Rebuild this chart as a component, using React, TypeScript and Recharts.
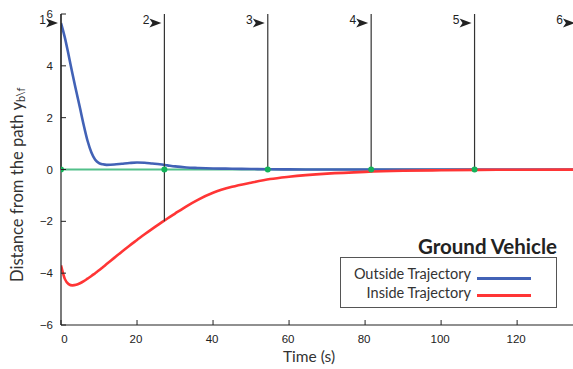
import React from 'react';
import { ComposedChart, Line, Scatter, XAxis, YAxis, ReferenceLine } from 'recharts';

// time samples (s) and lateral offsets
const times = [0, 1, 2, 3, 4, 5, 6, 7, 8, 9, 10, 11, 12, 14, 16, 18, 20, 22, 24, 26, 28, 30, 33, 36, 40, 45, 50, 55, 60, 70, 80, 90, 100, 110, 120, 135];
const outsideTrajectory = [5.65, 5.1, 4.42, 3.7, 3.03, 2.37, 1.7, 1.1, 0.66, 0.38, 0.25, 0.2, 0.18, 0.19, 0.22, 0.25, 0.27, 0.26, 0.23, 0.2, 0.16, 0.12, 0.08, 0.06, 0.04, 0.03, 0.02, 0.01, 0.005, 0, 0, 0, 0, 0, 0, 0];
const insideTrajectory = [-3.7, -4.22, -4.42, -4.47, -4.45, -4.39, -4.31, -4.21, -4.11, -4.0, -3.89, -3.77, -3.65, -3.41, -3.17, -2.94, -2.72, -2.5, -2.29, -2.09, -1.89, -1.7, -1.42, -1.17, -0.9, -0.67, -0.51, -0.37, -0.28, -0.16, -0.09, -0.05, -0.03, -0.015, -0.01, -0.005];

// waypoints 1..6 along the path
const markerTimes = [0, 27.2, 54.4, 81.6, 108.8, 136];
const markerLabels = ['1', '2', '3', '4', '5', '6'];
const markerBottoms = [0, -2, 0, 0, 0, 0];

const xTicks = [0, 20, 40, 60, 80, 100, 120];
const yTicks = [-6, -4, -2, 0, 2, 4, 6];

const seriesKeys = ['outside', 'inside'];
const seriesNames = ['Outside Trajectory', 'Inside Trajectory'];
const seriesColors = ['#4262b6', '#ff3535'];

const chartData = times.map((t, i) => ({ t, outside: outsideTrajectory[i], inside: insideTrajectory[i] }));
const waypointData = markerTimes.filter((t) => t <= 135).map((t) => ({ t, v: 0 }));

const FONT = '"Liberation Sans", Arial, sans-serif';
const LABEL_FONT = 'Lato, "Liberation Sans", sans-serif';
const INK = '#222';

const fmt = (v: number) => (v < 0 ? `\u2212${Math.abs(v)}` : `${v}`);

const YTick = ({ x, y, payload }: any) => (
  <g>
    <line x1={x + 8} x2={x + 13} y1={y} y2={y} stroke={INK} strokeWidth={1} />
    <text x={x} y={y + 4} textAnchor="end" fontSize={11.5} fill={INK} fontFamily={FONT}>
      {fmt(payload.value)}
    </text>
  </g>
);

const XTick = ({ x, y, payload }: any) => (
  <g>
    <line x1={x} x2={x} y1={y - 8} y2={y - 13} stroke={INK} strokeWidth={1} />
    <text x={payload.value === 0 ? x + 3.5 : x - 1} y={y + 9.5} textAnchor="middle" fontSize={11.5} fill={INK} fontFamily={FONT}>
      {fmt(payload.value)}
    </text>
  </g>
);

const YLabel = () => (
  <text transform="rotate(-90)" x={-282} y={23} fontSize={16.6} fill="#333" fontFamily={LABEL_FONT}>
    Distance from the path y
    <tspan dy={2} fontSize={11}>b\f</tspan>
  </text>
);

const XLabel = () => (
  <text x={309} y={362} textAnchor="middle" fontSize={15.5} fill="#333" fontFamily={LABEL_FONT}>
    Time (s)
  </text>
);

const MarkerLabel = ({ viewBox, text }: any) => {
  const x = viewBox.x;
  const cy = 23;
  return (
    <g>
      <text x={x - 15} y={24} textAnchor="end" fontSize={12} fill={INK} fontFamily={FONT}>
        {text}
      </text>
      <path
        d={`M${x - 15},${cy - 4.5} L${x - 3},${cy} L${x - 15},${cy + 4.5} L${x - 12},${cy} Z`}
        fill={INK}
      />
    </g>
  );
};

const WaypointDot = ({ cx, cy }: any) => <circle cx={cx} cy={cy} r={3} fill="#14b35a" />;

export default function App() {
  return (
    <div style={{ position: 'absolute', left: 0, top: 0, width: 573, height: 369, background: '#fff' }}>
      <ComposedChart width={573} height={369} data={chartData} margin={{ top: 14, right: 0, bottom: 0, left: 0 }}>
        <XAxis
          dataKey="t"
          type="number"
          domain={[0, 134.7]}
          ticks={xTicks}
          allowDataOverflow
          height={44}
          tickSize={0}
          tickMargin={8}
          tick={<XTick />}
          axisLine={{ stroke: INK, strokeWidth: 1.2 }}
          label={<XLabel />}
        />
        <YAxis
          type="number"
          domain={[-6, 6]}
          ticks={yTicks}
          width={61}
          tickSize={0}
          tickMargin={8}
          tick={<YTick />}
          axisLine={{ stroke: INK, strokeWidth: 1.2 }}
          label={<YLabel />}
        />
        <Line
          data={waypointData}
          dataKey="v"
          stroke="#52c08a"
          strokeWidth={2}
          dot={false}
          isAnimationActive={false}
        />
        {seriesKeys.map((k, i) => (
          <Line
            key={k}
            dataKey={k}
            name={seriesNames[i]}
            type="monotone"
            stroke={seriesColors[i]}
            strokeWidth={2.6}
            dot={false}
            isAnimationActive={false}
          />
        ))}
        {markerTimes.map((t, i) => (
          <ReferenceLine
            key={`m${i}`}
            segment={[{ x: t, y: 6 }, { x: t, y: markerBottoms[i] }]}
            stroke="#333"
            strokeWidth={1.2}
            ifOverflow="visible"
            label={<MarkerLabel text={markerLabels[i]} />}
          />
        ))}
        <Scatter data={waypointData} dataKey="v" shape={<WaypointDot />} isAnimationActive={false} />
      </ComposedChart>

      <div
        style={{
          position: 'absolute',
          right: 573 - 557,
          top: 234,
          fontFamily: LABEL_FONT,
          fontWeight: 'bold',
          fontSize: 20.5,
          lineHeight: '24px',
          color: INK,
          whiteSpace: 'nowrap',
        }}
      >
        Ground Vehicle
      </div>
      <div
        style={{
          position: 'absolute',
          left: 340,
          top: 257,
          width: 217,
          height: 51,
          border: '1px solid #555',
          boxSizing: 'border-box',
          background: '#fff',
        }}
      />
      {seriesNames.map((name, i) => (
        <React.Fragment key={name}>
          <div
            style={{
              position: 'absolute',
              right: 573 - 471,
              top: 264 + i * 19,
              fontFamily: LABEL_FONT,
              fontSize: 14.5,
              lineHeight: '20px',
              color: '#333',
              whiteSpace: 'nowrap',
            }}
          >
            {name}
          </div>
          <div
            style={{
              position: 'absolute',
              left: 477,
              top: 276.5 + i * 17.5,
              width: 54,
              height: 3,
              background: seriesColors[i],
            }}
          />
        </React.Fragment>
      ))}
    </div>
  );
}
